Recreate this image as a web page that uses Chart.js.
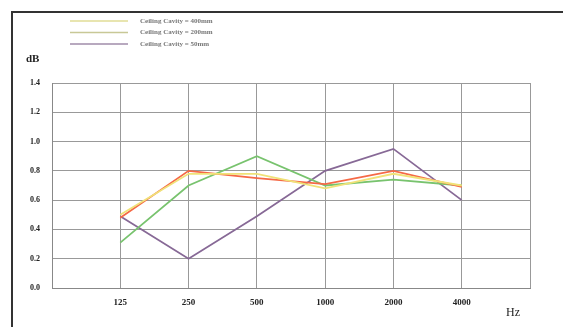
<!DOCTYPE html>
<html>
<head>
<meta charset="utf-8">
<script src="https://cdn.jsdelivr.net/npm/chart.js@4"></script>
<style>
  html, body { margin: 0; padding: 0; background: #fff; }
  #wrap { width: 563px; height: 327px; position: relative; }
</style>
</head>
<body>
<div id="wrap"><canvas id="chart1"></canvas></div>
<script>
// Frequencies (Hz) and absorption values
const freqs = ['125', '250', '500', '1000', '2000', '4000'];
const cavity400 = [0.50, 0.78, 0.78, 0.68, 0.78, 0.70];
const cavity200 = [0.31, 0.70, 0.90, 0.70, 0.74, 0.70];
const cavity50 = [0.49, 0.20, 0.49, 0.80, 0.95, 0.60];
const extra = [0.48, 0.80, 0.75, 0.71, 0.80, 0.69];
const legendNames = ['Ceiling Cavity = 400mm', 'Ceiling Cavity = 200mm', 'Ceiling Cavity = 50mm'];

const pts = arr => arr.map((v, i) => ({ x: i + 1, y: v }));

const data = {
    datasets: [
        { label: legendNames[0], data: pts(cavity400), borderColor: 'rgb(240, 226, 120)', legendColor: 'rgb(225, 220, 150)' },
        { label: '', data: pts(extra), borderColor: 'rgb(245, 105, 70)', hideLegend: true },
        { label: legendNames[1], data: pts(cavity200), borderColor: 'rgb(120, 195, 110)', legendColor: 'rgb(200, 200, 150)' },
        { label: legendNames[2], data: pts(cavity50), borderColor: 'rgb(135, 105, 150)', legendColor: 'rgb(160, 140, 170)' }
    ].map(d => Object.assign({ borderWidth: 1.8, pointRadius: 0, tension: 0, fill: false }, d))
};

// Frame, custom legend and unit labels
const decor = {
    id: 'decor',
    afterDraw(chart) {
        const c = chart.ctx;
        c.save();
        c.strokeStyle = '#333';
        c.lineWidth = 2;
        c.beginPath();
        c.moveTo(12, 340); c.lineTo(12, 12); c.lineTo(570, 12);
        c.stroke();
        let y = 21;
        c.font = 'bold 7px "Liberation Serif"';
        c.textBaseline = 'middle';
        chart.data.datasets.forEach(d => {
            if (d.hideLegend) return;
            c.strokeStyle = d.legendColor;
            c.lineWidth = 1.5;
            c.beginPath(); c.moveTo(70, y); c.lineTo(128, y); c.stroke();
            c.fillStyle = '#777';
            c.fillText(d.label, 140, y);
            y += 11.5;
        });
        c.fillStyle = '#222';
        c.font = 'bold 11px "Liberation Serif"';
        c.fillText('dB', 26, 59);
        c.font = '12px "Liberation Serif"';
        c.fillText('Hz', 506, 313);
        c.restore();
    }
};

const options = {
    responsive: true,
    maintainAspectRatio: false,
    animation: false,
    layout: { padding: { top: 83, right: 33, left: 0, bottom: 0 } },
    plugins: { legend: { display: false }, tooltip: { enabled: false } },
    scales: {
        x: {
            type: 'linear', min: 0, max: 7,
            afterFit: s => { s.height = 39; },
            border: { color: '#888' },
            grid: { color: '#999', drawTicks: false },
            ticks: {
                stepSize: 1, padding: 9, color: '#222',
                font: { family: 'Liberation Serif', size: 9, weight: 'bold' },
                callback: v => freqs[v - 1] || ''
            }
        },
        y: {
            min: 0, max: 1.4,
            afterFit: s => { s.width = 52; },
            border: { color: '#888' },
            grid: { color: '#999', drawTicks: false },
            ticks: {
                stepSize: 0.2, padding: 12, color: '#222',
                font: { family: 'Liberation Serif', size: 8, weight: 'bold' },
                callback: v => v.toFixed(1)
            }
        }
    }
};

const ctx = document.getElementById('chart1').getContext('2d');
const myChart = new Chart(ctx, { type: 'line', data: data, options: options, plugins: [decor] });
</script>
</body>
</html>
